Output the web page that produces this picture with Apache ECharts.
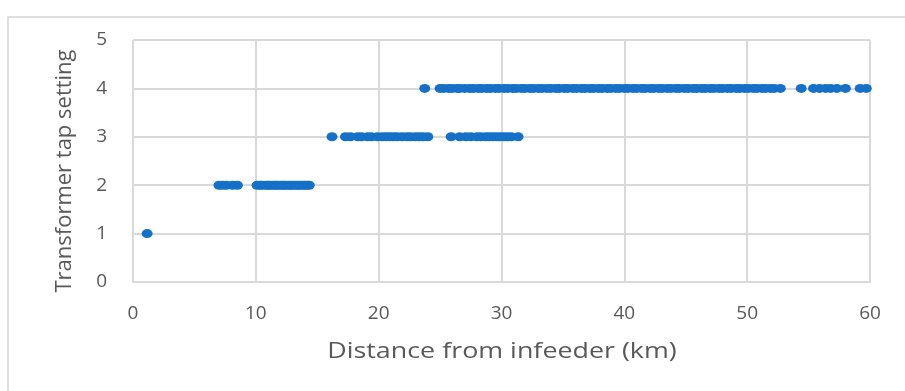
<!DOCTYPE html>
<html>
<head>
<meta charset="utf-8">
<script src="https://cdn.jsdelivr.net/npm/echarts@6/dist/echarts.min.js"></script>
<style>
  html, body { margin: 0; padding: 0; background: #ffffff; }
  #chart { width: 905px; height: 391px; }
</style>
</head>
<body>
<div id="chart"></div>
<script>
// Distances (km) of transformers grouped by their tap setting
const tap1Km = [1.15];
const tap2Km = [7.0, 7.3, 7.6, 8.1, 8.5,
  10.1, 10.35, 10.5, 10.8, 11.0, 11.15, 11.4, 11.6, 11.75, 12.0, 12.2, 12.35,
  12.6, 12.8, 12.95, 13.2, 13.4, 13.55, 13.8, 14.0, 14.2, 14.35];
const tap3Km = [16.2, 17.3, 17.7, 18.3, 18.6, 19.1, 19.4, 19.9, 20.3, 20.6, 20.9,
  21.2, 21.5, 21.9, 22.3, 22.6, 23.0, 23.3, 23.6, 24.0,
  25.9, 26.6, 27.1, 27.5, 28.0, 28.3, 28.7, 29.0, 29.3, 29.6, 29.9, 30.2,
  30.5, 30.8, 31.35];
const tap4Km = [23.75,
  25.0, 25.3, 25.7, 26.0, 26.4, 26.6, 27.0, 27.4, 27.7, 28.1, 28.4, 28.8,
  29.1, 29.5, 29.8, 30.2, 30.5, 30.9, 31.2, 31.6, 31.9, 32.3, 32.6, 33.0,
  33.3, 33.7, 34.0, 34.4, 34.7, 35.1, 35.4, 35.8, 36.1, 36.5, 36.8, 37.2,
  37.5, 37.9, 38.2, 38.6, 38.9, 39.3, 39.6, 40.0, 40.3, 40.7, 41.0, 41.4,
  41.7, 42.1, 42.4, 42.8, 43.1, 43.5, 43.8, 44.2, 44.5, 44.9, 45.2, 45.6,
  45.9, 46.3, 46.6, 47.0, 47.3, 47.7, 48.0, 48.4, 48.7, 49.1, 49.4, 49.8,
  50.1, 50.5, 50.8, 51.2, 51.5, 51.9, 52.2, 52.7,
  54.4, 55.4, 55.9, 56.4, 56.8, 57.3, 58.0, 59.2, 59.7];

const xTitle = 'Distance from infeeder (km)';
const yTitle = 'Transformer tap setting';

const tapGroups = [[1, tap1Km], [2, tap2Km], [3, tap3Km], [4, tap4Km]];
const points = [];
tapGroups.forEach(([tap, kms]) => kms.forEach(km => points.push([km, tap])));

const axisTextColor = '#595959';
const gridColor = '#d9d9d9';
const fontFamily = '"Open Sans", "Liberation Sans", sans-serif';

const chart = echarts.init(document.getElementById('chart'), null, { renderer: 'canvas' });
chart.setOption({
  backgroundColor: '#ffffff',
  animation: false,
  graphic: [
    {
      // chart frame
      type: 'rect',
      shape: { x: 8, y: 17, width: 920, height: 400 },
      style: { fill: 'none', stroke: '#d4d4d4', lineWidth: 1.5 },
      silent: true,
      z: -10
    },
    {
      // horizontal axis title, drawn slightly widened
      type: 'text',
      x: 502, y: 352,
      scaleX: 1.22,
      style: {
        text: xTitle, fill: axisTextColor, font: '22px ' + fontFamily,
        align: 'center', verticalAlign: 'middle'
      },
      silent: true
    },
    {
      // vertical axis title
      type: 'text',
      x: 65, y: 171,
      rotation: Math.PI / 2,
      style: {
        text: yTitle, fill: axisTextColor, font: '22px ' + fontFamily,
        align: 'center', verticalAlign: 'middle'
      },
      silent: true
    }
  ],
  grid: { left: 133, right: 35, top: 40, bottom: 109, containLabel: false },
  xAxis: {
    type: 'value',
    min: 0, max: 60, interval: 10,
    axisLine: { show: true, lineStyle: { color: gridColor, width: 2 } },
    axisTick: { show: false },
    axisLabel: { color: axisTextColor, fontSize: 19, fontFamily: fontFamily, margin: 22 },
    splitLine: { show: true, lineStyle: { color: gridColor, width: 2 } }
  },
  yAxis: {
    type: 'value',
    min: 0, max: 5, interval: 1,
    axisLine: { show: false },
    axisTick: { show: false },
    axisLabel: { color: axisTextColor, fontSize: 19, fontFamily: fontFamily, margin: 26 },
    splitLine: { show: true, lineStyle: { color: gridColor, width: 2 } }
  },
  series: [{
    type: 'scatter',
    data: points,
    symbol: 'circle',
    symbolSize: [11, 9],
    itemStyle: { color: '#1570c8', opacity: 1 }
  }]
});
</script>
</body>
</html>
